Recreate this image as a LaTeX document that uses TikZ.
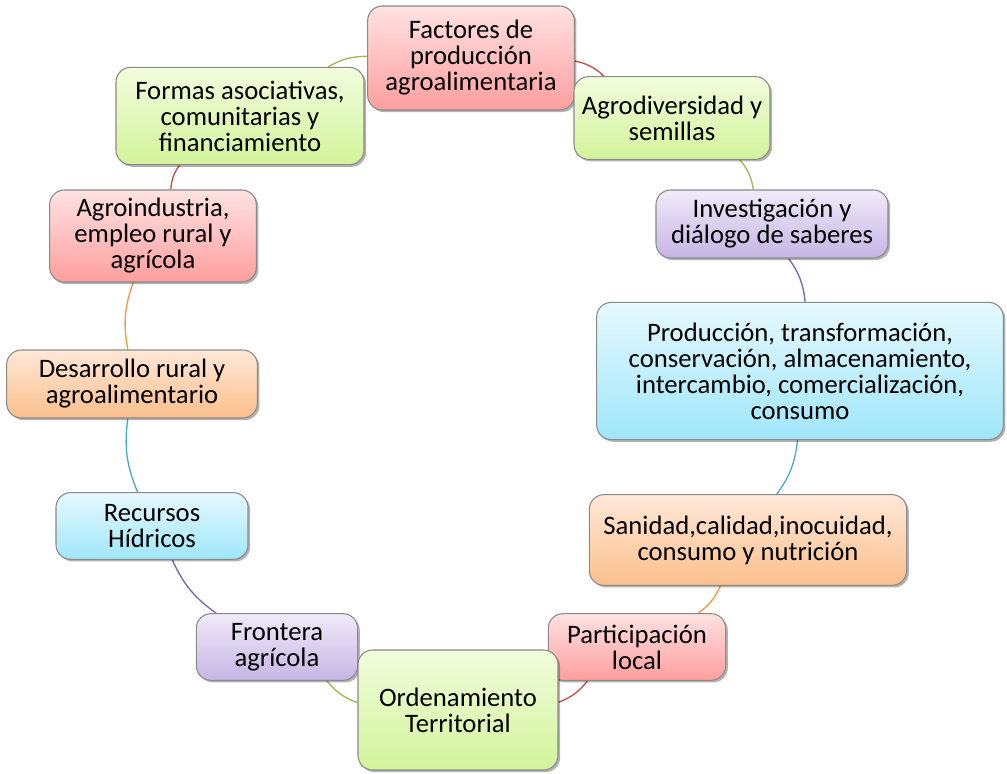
\documentclass[tikz,border=0pt]{standalone}
\usepackage{fontspec}
\setmainfont{Carlito}
\usetikzlibrary{shadows,backgrounds}
\definecolor{rT}{HTML}{FFE2E2}\definecolor{rB}{HTML}{FF9E9E}
\definecolor{gT}{HTML}{F2FCDD}\definecolor{gB}{HTML}{D2F49A}
\definecolor{pT}{HTML}{F0EAF9}\definecolor{pB}{HTML}{C6B5E4}
\definecolor{bT}{HTML}{E6F9FE}\definecolor{bB}{HTML}{9FE6FA}
\definecolor{oT}{HTML}{FFE8D8}\definecolor{oB}{HTML}{FBBF8C}
\definecolor{rL}{HTML}{C0504D}\definecolor{gL}{HTML}{9BBB59}
\definecolor{pL}{HTML}{8064A2}\definecolor{bL}{HTML}{4BACC6}
\definecolor{oL}{HTML}{F79646}
\definecolor{edge}{HTML}{8A8A8A}
\tikzset{
  box/.style={draw=edge, line width=0.8pt, rounded corners=11pt, align=center,
    inner sep=2pt, font=\fontsize{20}{19.5}\selectfont,
    drop shadow={shadow xshift=1.6pt, shadow yshift=-1.6pt, opacity=0.3, fill=black}},
  redbox/.style={box, top color=rT, bottom color=rB},
  greenbox/.style={box, top color=gT, bottom color=gB},
  purplebox/.style={box, top color=pT, bottom color=pB},
  bluebox/.style={box, top color=bT, bottom color=bB},
  orangebox/.style={box, top color=oT, bottom color=oB},
  link/.style={line width=1pt, bend left=15},
}
\begin{document}
\begin{tikzpicture}[x=0.75pt, y=-0.75pt]
\useasboundingbox (0,0) rectangle (1007,774);
\node[redbox, minimum width=155pt, minimum height=78pt] (fac) at (471,58) {Factores de\\producción\\agroalimentaria};
\node[greenbox, minimum width=147pt, minimum height=62pt] (agr) at (672,118) {Agrodiversidad y\\semillas};
\node[purplebox, minimum width=174pt, minimum height=51pt] (inv) at (772,224) {Investigación y\\diálogo de saberes};
\node[bluebox, minimum width=305pt, minimum height=103pt] (pro) at (800,371) {Producción, transformación,\\conservación, almacenamiento,\\intercambio, comercialización,\\consumo};
\node[orangebox, minimum width=238pt, minimum height=68pt] (san) at (748,540) {Sanidad,calidad,inocuidad,\\consumo y nutrición};
\node[redbox, minimum width=133pt, minimum height=50pt] (par) at (637,647) {Participación\\local};
\node[purplebox, minimum width=121pt, minimum height=50pt] (fro) at (277,647) {Frontera\\agrícola};
\node[greenbox, minimum width=150pt, minimum height=90pt] (ord) at (458,710) {Ordenamiento\\Territorial};
\node[bluebox, minimum width=144pt, minimum height=50pt] (rec) at (152,526) {Recursos\\Hídricos};
\node[orangebox, minimum width=188pt, minimum height=51pt] (des) at (132,384) {Desarrollo rural y\\agroalimentario};
\node[redbox, minimum width=155pt, minimum height=69pt] (ain) at (153,236) {Agroindustria,\\empleo rural y\\agrícola};
\node[greenbox, minimum width=186pt, minimum height=73pt] (for) at (240,116) {Formas asociativas,\\comunitarias y\\financiamiento};
\begin{scope}[on background layer]
\draw[link, draw=rL] (fac) to (agr);
\draw[link, draw=gL] (agr) to (inv);
\draw[link, draw=pL] (inv) to (pro);
\draw[link, draw=bL] (pro) to (san);
\draw[link, draw=oL] (san) to (par);
\draw[link, draw=rL] (par) to (ord);
\draw[link, draw=gL] (ord) to (fro);
\draw[link, draw=pL] (fro) to (rec);
\draw[link, draw=bL] (rec) to (des);
\draw[link, draw=oL] (des) to (ain);
\draw[link, draw=rL] (ain) to (for);
\draw[link, draw=gL] (for) to (fac);
\end{scope}
\end{tikzpicture}
\end{document}
